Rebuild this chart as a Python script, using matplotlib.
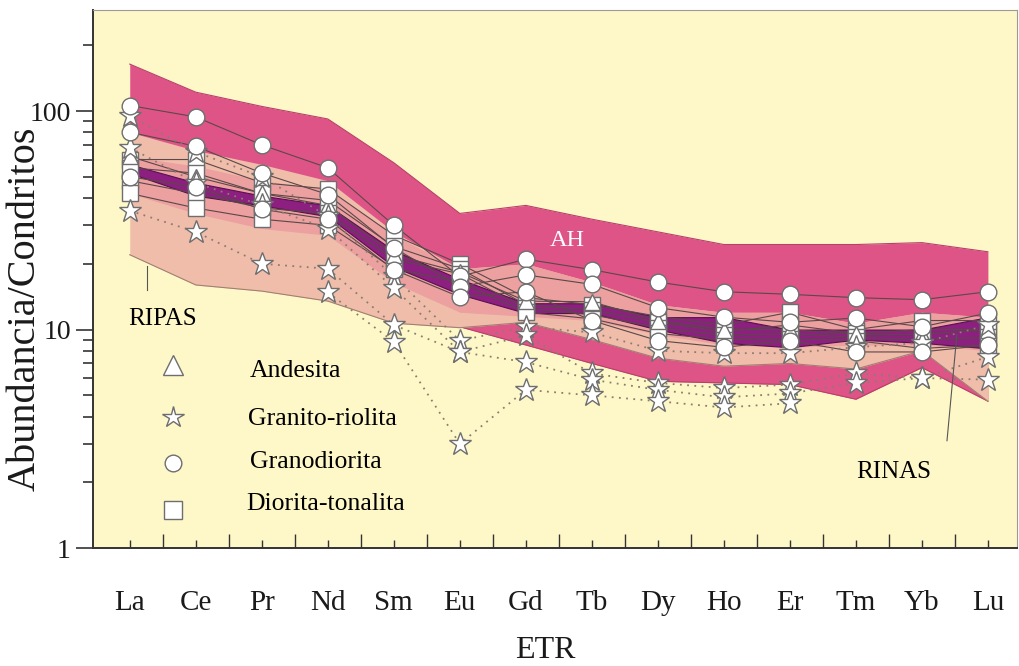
import numpy as np
import matplotlib.pyplot as plt
from matplotlib.ticker import LogLocator, NullFormatter, FixedLocator

plt.rcParams['font.family'] = ['Liberation Serif', 'DejaVu Serif']

# REE elements
ree = ['La', 'Ce', 'Pr', 'Nd', 'Sm', 'Eu', 'Gd', 'Tb', 'Dy', 'Ho', 'Er', 'Tm', 'Yb', 'Lu']
x = np.arange(len(ree))

# fields
ah_upper = [164, 122, 105, 92, 58, 34, 37, 32, 28, 24.5, 24.5, 24.5, 25, 22.7]
ah_lower = [42, 34, 29, 27, 16.4, 10.3, 8.5, 7.0, 5.8, 5.7, 5.6, 4.8, 6.7, 4.7]
ripas_upper = [80, 66, 57, 48, 28, 19, 20, 16.5, 13, 12, 12, 10.7, 12, 11.4]
ripas_lower = [22, 16, 15, 13.5, 10.7, 10.2, 10.8, 9.0, 7.4, 6.8, 7.0, 6.6, 8.0, 4.7]
mid_upper = [62, 56, 48, 44, 27, 19, 20, 16.5, 13, 12, 12, 10.7, 12, 11.4]
mid_lower = [42, 34, 29, 27, 16.4, 12, 11.5, 11, 9.5, 8.5, 8.3, 8.5, 8.5, 8.0]
rinas_upper = [57, 47, 41, 37, 23, 17, 13.2, 13.2, 11.4, 11.4, 10, 10, 10, 11.4]
rinas_lower = [52, 41, 37, 33, 19.4, 14.5, 11.9, 11.9, 10, 8.7, 8.3, 9, 8.7, 8.2]

# granodiorita
grd1 = [106, 94, 70, 55, 30, 17.5, 21, 18.8, 16.5, 14.9, 14.5, 14.0, 13.7, 14.9]
grd2 = [80, 69, 52, 41.5, 23.7, 15.7, 17.8, 16.1, 12.6, 11.4, 10.8, 11.3, 10.3, 11.9]
grd3 = [50, 45, 35.5, 32, 18.8, 14.1, 14.9, 11.0, 8.9, 8.3, 8.9, 7.9, 7.9, 8.5]

# granito-riolita
gr1 = [95, 65, 50, 33, 17.5, 8.9, 10.3, 9.7, 8.0, 7.8, 7.8, 8.3, 8.7, 10.5]
gr2 = [68, 47, 37, 29, 15.5, 7.9, 9.4, 6.3, 5.7, 5.4, 5.6, 6.3, 6.0, 7.5]
gr3 = [35, 28, 20, 19, 10.5, 7.9, 7.1, 5.9, 5.3, 4.9, 5.1, 5.7, 6.0, 5.9]
gr4 = [np.nan, np.nan, np.nan, 14.8, 8.8, 3.0, 5.3, 5.0, 4.7, 4.4, 4.6, np.nan, np.nan, np.nan]

# diorita-tonalita
dt1 = [60, 60, 47, 44, 27, 20, 14, 13, 11.5, 10.5, 12, 10, 11, 11]
dt2 = [55, 52, 42, 39, 24, 19, 13, 12.3, 10.8, 9.8, 10.5, 9.6, 10, 10]
dt3 = [48, 42, 36, 34, 21, 18, 12.5, 11.7, 10.2, 9.4, 9.6, 9.2, 9, 9.2]
dt4 = [42, 36, 32, 30, 19, 16.5, 12, 11.2, 9.6, 9, 9.1, 8.9, 8.2, 8.5]

# andesita
and1 = [62, 50, 42, 37, 22, 18.3, 13.5, 13.4, 11, 10, 10, 9.5, 9.5, 10]

fig = plt.figure(figsize=(10.19, 6.66), dpi=100)
ax = fig.add_axes([0.0913, 0.177, 0.9067, 0.808])
ax.set_facecolor('#fef8c8')

# fields
ax.fill_between(x, ah_lower, ah_upper, color='#df5487', lw=0, zorder=1)
ax.plot(x, ah_upper, color='#b8406a', lw=0.8, zorder=1)
ax.plot(x, ah_lower, color='#b8406a', lw=0.8, zorder=1)
ax.fill_between(x, ripas_lower, ripas_upper, color='#f0bdab', lw=0, zorder=2)
ax.plot(x, ripas_lower, color='#a08070', lw=0.8, zorder=2)
ax.fill_between(x, mid_lower, mid_upper, color='#eca0a0', lw=0, zorder=2)
ax.fill_between(x, rinas_lower, rinas_upper, color='#8c1f80', lw=0.8,
                edgecolor='#5a1050', zorder=3)

line_kw = dict(color='#5b4848', lw=0.8, zorder=4)
for s in [grd1, grd2, grd3, dt1, dt2, dt3, dt4, and1]:
    ax.plot(x, s, **line_kw)
for s in [gr1, gr2, gr3, gr4]:
    ax.plot(x, s, color='#8a7d70', lw=1.3, ls=(0, (1, 3)), zorder=4)

mk = dict(ls='none', mfc='white', mec='#6e6e6e', mew=1.0, zorder=5)
for s in [dt1, dt2, dt3, dt4]:
    ax.plot(x, s, marker='s', ms=11, **mk)
for s in [and1]:
    ax.plot(x, s, marker='^', ms=11, **mk)
for s in [gr1, gr2, gr3, gr4]:
    ax.plot(x, s, marker='*', ms=17, **mk)
for s in [grd1, grd2, grd3]:
    ax.plot(x, s, marker='o', ms=12, **mk)

# labels in the plot
ax.text(6.63, 25.6, 'AH', color='white', fontsize=17.5, ha='center', va='center', zorder=6)
ax.text(0.49, 11.2, 'RIPAS', fontsize=18, ha='center', va='center', zorder=6)
ax.plot([0.26, 0.26], [15.2, 19.5], color='#555555', lw=0.8, zorder=6)
ax.text(11.57, 2.24, 'RINAS', fontsize=18, ha='center', va='center', zorder=6)
ax.plot([12.38, 12.53], [3.1, 9.5], color='#555555', lw=0.8, zorder=6)

# legend
leg_names = ['Andesita', 'Granito-riolita', 'Granodiorita', 'Diorita-tonalita']
leg_marks = ['^', '*', 'o', 's']
leg_ms = [14, 16, 12, 13]
leg_my = [0.340, 0.2435, 0.158, 0.0706]
leg_ty = [0.329, 0.240, 0.160, 0.082]
leg_tx = [0.170, 0.168, 0.170, 0.166]
for name, m, ms, my, ty, tx in zip(leg_names, leg_marks, leg_ms, leg_my, leg_ty, leg_tx):
    ax.plot([0.0866], [my], marker=m, ms=ms, ls='none', mfc='white', mec='#6e6e6e',
            mew=1.0, transform=ax.transAxes, zorder=6, clip_on=False)
    ax.text(tx, ty, name, fontsize=18.5, ha='left', va='center', transform=ax.transAxes, zorder=6)

# axes
ax.set_yscale('log')
ax.set_ylim(1, 290)
ax.set_xlim(-0.556, 13.44)
ax.yaxis.set_major_locator(FixedLocator([1, 10, 100]))
ax.set_yticklabels(['1', '10', '100'])
ax.yaxis.set_minor_locator(LogLocator(base=10, subs=np.arange(2, 10)))
ax.yaxis.set_minor_formatter(NullFormatter())
ax.tick_params(axis='y', which='major', direction='out', length=12, width=1.2,
               labelsize=20, pad=4, colors='#333333')
ax.tick_params(axis='y', which='minor', direction='out', length=7, width=1.2, colors='#333333')

ax.set_xticks(x)
ax.set_xticklabels(ree)
ax.set_xticks(x[:-1] + 0.5, minor=True)
ax.tick_params(axis='x', which='major', direction='in', length=6, width=1.0,
               labelsize=21, pad=30, colors='#333333')
ax.tick_params(axis='x', which='minor', direction='in', length=10, width=1.0, colors='#333333')
for lab in ax.get_xticklabels() + ax.get_yticklabels():
    lab.set_color('#1a1a1a')

for side in ['top', 'right']:
    ax.spines[side].set_color('#9a9a9a')
    ax.spines[side].set_linewidth(0.8)
for side in ['left', 'bottom']:
    ax.spines[side].set_color('#333333')
    ax.spines[side].set_linewidth(1.4)

ax.set_xlabel('ETR', fontsize=23, color='#1a1a1a', va='center')
ax.xaxis.set_label_coords(0.489, -0.19)
ax.set_ylabel('Abundancia/Condritos', fontsize=29, color='#1a1a1a', va='center')
ax.yaxis.set_label_coords(-0.074, 0.445)

fig.savefig('out.png', dpi=100)
